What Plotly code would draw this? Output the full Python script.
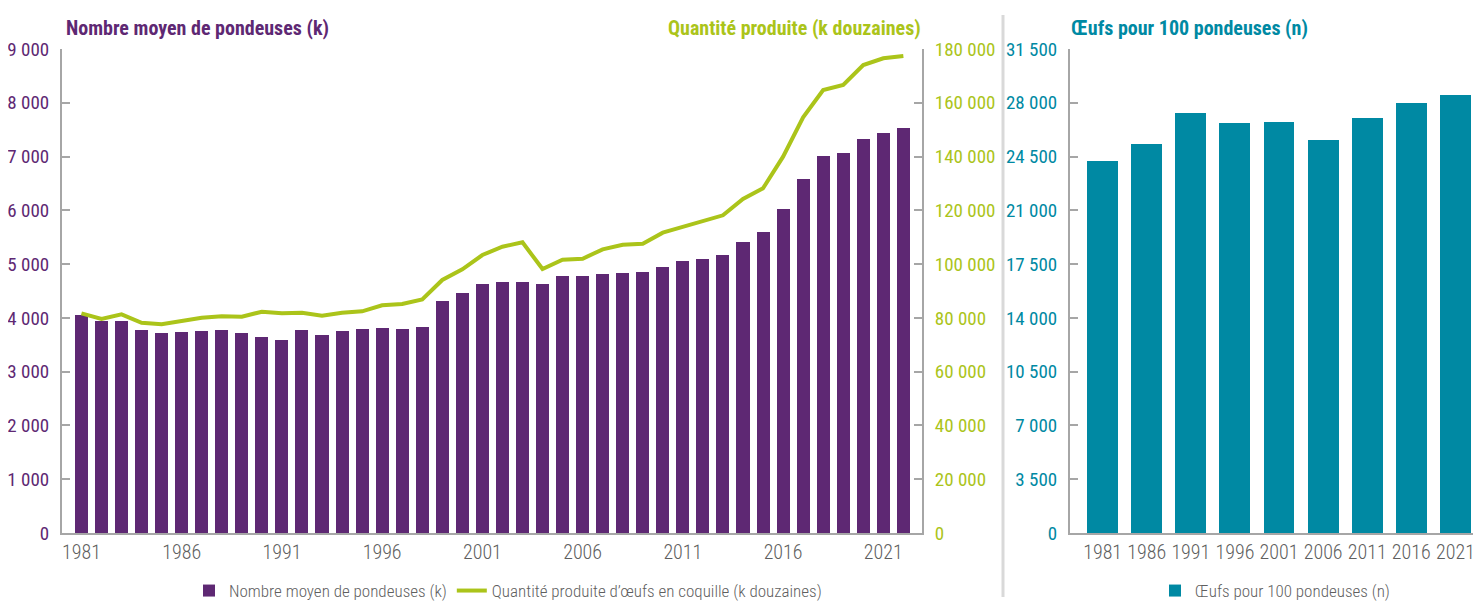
import plotly.graph_objects as go

years = list(range(1981, 2023))
pondeuses = [4050, 3950, 3950, 3780, 3725, 3737, 3756, 3780, 3725, 3650,
             3594, 3780, 3687, 3756, 3799, 3817, 3799, 3836, 4320, 4463,
             4630, 4673, 4673, 4630, 4779, 4779, 4816, 4840, 4859, 4946,
             5058, 5095, 5175, 5411, 5597, 6025, 6582, 7016, 7066, 7332,
             7438, 7536]
quantite = [81700, 79600, 81300, 78200, 77600, 78950, 80070, 80600, 80440, 82300,
            81700, 81930, 80800, 81930, 82450, 84680, 85170, 86900, 94090, 98070,
            103380, 106470, 108100, 98180, 101640, 102010, 105500, 107220, 107590, 111680,
            113910, 115770, 118150, 124200, 128190, 139950, 154600, 164750, 166610, 174050,
            176530, 177390]
oeufs_years = ["1981", "1986", "1991", "1996", "2001", "2006", "2011", "2016", "2021"]
oeufs = [24210, 25320, 27340, 26680, 26750, 25580, 27010, 27990, 28510]

PURPLE = "#5e2873"
GREEN = "#abc41a"
TEAL = "#0089a3"
AXIS = "#a6a6a6"
GREYTXT = "#5f5f5f"
FONT = "Roboto Condensed"

W, H = 1481, 601
OFF = 8  # page body margin offset


def px(x):
    return (x - OFF) / W


def py(y):
    return 1 - (y - OFF) / H


fig = go.Figure()
fig.add_trace(go.Bar(x=years, y=pondeuses, name="Nombre moyen de pondeuses (k)",
                     marker=dict(color=PURPLE, line=dict(width=0)), width=0.65,
                     xaxis="x", yaxis="y", legend="legend"))
fig.add_trace(go.Scatter(x=years, y=quantite, mode="lines",
                         name="Quantité produite d\u2019œufs en coquille (k douzaines)",
                         line=dict(color=GREEN, width=4), xaxis="x", yaxis="y2", legend="legend"))
fig.add_trace(go.Bar(x=oeufs_years, y=oeufs, name="Œufs pour 100 pondeuses (n)",
                     marker=dict(color=TEAL, line=dict(width=0)), width=0.70,
                     xaxis="x3", yaxis="y3", legend="legend2"))

yd = [py(533), py(49)]
common_y = dict(showgrid=False, zeroline=False, showline=True, linecolor=AXIS, linewidth=2,
                ticks="inside", ticklen=8, tickcolor=AXIS, tickwidth=2, tickformat=",d",
                ticklabelstandoff=7)
tickfont_x = dict(size=20, color=GREYTXT, family=FONT, weight=300)

fig.update_layout(
    width=W, height=H, margin=dict(l=0, r=0, t=0, b=0, autoexpand=False),
    paper_bgcolor="white", plot_bgcolor="white",
    separators=", ",
    font=dict(family=FONT, size=17, color=GREYTXT),
    bargap=0,
    xaxis=dict(domain=[px(62), px(922)], range=[1980.03, 2022.93], showgrid=False,
               zeroline=False, showline=True, linecolor=AXIS, linewidth=2, ticks="",
               tickmode="linear", tick0=1981, dtick=5, anchor="y", tickfont=tickfont_x),
    yaxis=dict(domain=yd, range=[0, 9000], dtick=1000, anchor="x",
               tickfont=dict(size=19, color=PURPLE, family=FONT), **common_y),
    yaxis2=dict(range=[0, 180000], dtick=20000, overlaying="y", side="right", anchor="x",
                tickfont=dict(size=19, color=GREEN, family=FONT), **common_y),
    xaxis3=dict(domain=[px(1070), px(1481)], range=[-0.74, 8.58], type="category",
                showgrid=False, zeroline=False, showline=True, linecolor=AXIS, linewidth=2,
                ticks="", tickangle=0, anchor="y3", tickfont=tickfont_x),
    yaxis3=dict(domain=yd, range=[0, 31500], dtick=3500, anchor="x3",
                tickfont=dict(size=19, color=TEAL, family=FONT), **common_y),
    legend=dict(orientation="h", x=px(508), xanchor="center", y=0.0, yanchor="bottom",
                font=dict(size=17, color=GREYTXT, family=FONT, weight=300),
                bgcolor="rgba(0,0,0,0)", tracegroupgap=0),
    legend2=dict(orientation="h", x=px(1275), xanchor="center", y=0.0, yanchor="bottom",
                 font=dict(size=17, color=GREYTXT, family=FONT, weight=300),
                 bgcolor="rgba(0,0,0,0)"),
    showlegend=True,
)

fig.add_annotation(text="<b>Nombre moyen de pondeuses (k)</b>", xref="paper", yref="paper",
                   x=px(64), xanchor="left", y=py(28), yanchor="middle", showarrow=False,
                   font=dict(size=20, color=PURPLE, family=FONT))
fig.add_annotation(text="<b>Quantité produite (k douzaines)</b>", xref="paper", yref="paper",
                   x=px(923), xanchor="right", y=py(28), yanchor="middle", showarrow=False,
                   font=dict(size=20, color=GREEN, family=FONT))
fig.add_annotation(text="<b>Œufs pour 100 pondeuses (n)</b>", xref="paper", yref="paper",
                   x=px(1069), xanchor="left", y=py(28), yanchor="middle", showarrow=False,
                   font=dict(size=20, color=TEAL, family=FONT))

fig.add_shape(type="line", xref="paper", yref="paper", x0=px(1003), x1=px(1003),
              y0=py(597), y1=py(15), line=dict(color="#d9d9d9", width=3))

fig.write_html("out.html")
